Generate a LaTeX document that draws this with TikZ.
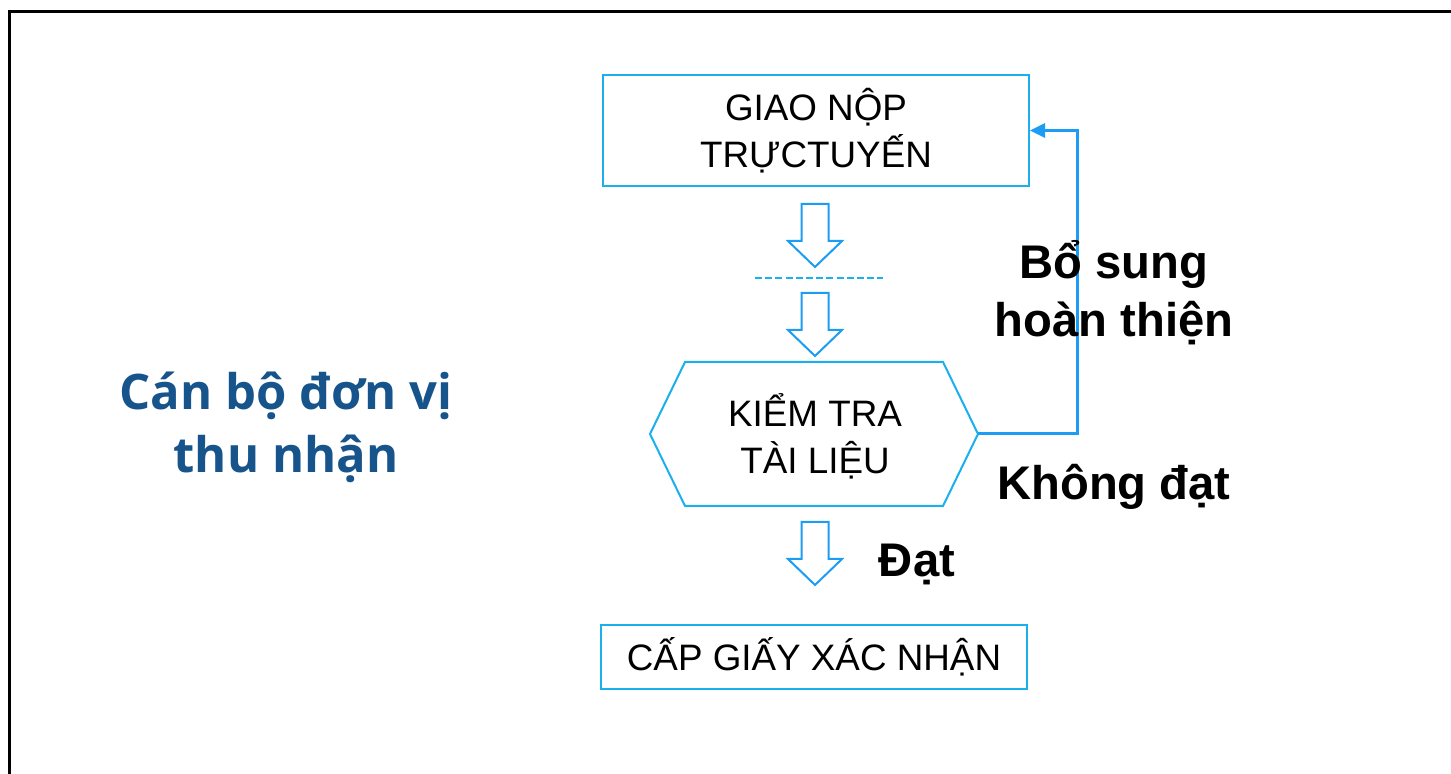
\documentclass[tikz,border=0pt]{standalone}
\usepackage{fontspec}
\setmainfont{Liberation Sans}
\newfontfamily\opensans{Open Sans}
\usetikzlibrary{arrows.meta}
\definecolor{boxblue}{HTML}{1AB0EE}
\definecolor{arrblue}{HTML}{1C9CF2}
\definecolor{titleblue}{HTML}{17548B}
\tikzset{
  boxstyle/.style={draw=boxblue, line width=1pt, inner sep=0pt, align=center, font=\fontsize{18.4}{23.5}\selectfont},
  arrowline/.style={draw=arrblue, line width=1pt, line join=miter},
  fbline/.style={draw=arrblue, line width=1.5pt},
  boldlabel/.style={font=\bfseries\fontsize{23.6}{29}\selectfont, align=center},
  blockdown/.pic={\draw[arrowline] (-13.5,0) -- (13.5,0) -- (13.5,37) -- (27,37) -- (0,63) -- (-27,37) -- (-13.5,37) -- cycle;}
}
\begin{document}
\begin{tikzpicture}[x=0.5pt, y=-0.5pt]
\useasboundingbox (0,0) rectangle (1451,774);
% frame
\draw[line width=1.5pt] (9,774) -- (9,12) -- (1451,12);
% title
\node[font=\opensans\bfseries\fontsize{24.5}{31.5}\selectfont, text=titleblue, align=center] (actor) at (286,427) {Cán bộ đơn vị\\thu nhận};
% top box
\node[boxstyle, minimum width=213pt, minimum height=55.5pt] (top) at (816,130.5) {GIAO NỘP\\TRỰCTUYẾN};
% arrows
\pic at (815,204) {blockdown};
\draw[draw=boxblue, line width=1.1pt, dash pattern=on 3.5pt off 1.6pt] (755,278) -- (883,278);
\pic at (815,293) {blockdown};
% hexagon
\draw[draw=boxblue, line width=1pt] (650,434) -- (685,362) -- (943,362) -- (978,434) -- (943,506) -- (685,506) -- cycle;
\coordinate (hexE) at (978,434);
\node[align=center, font=\fontsize{18.4}{23.5}\selectfont] (check) at (815,436) {KIỂM TRA\\TÀI LIỆU};
% feedback
\draw[fbline, -{Triangle[length=7.5pt, width=7pt]}] (hexE) -- ++(99,0) |- (top.east);
\node[boldlabel] (fix) at (1114,293) {Bổ sung\\hoàn thiện};
\node[boldlabel] (fail) at (1114,487) {Không đạt};
% pass
\pic at (815,522) {blockdown};
\node[boldlabel] (pass) at (917,564) {Đạt};
% bottom box
\node[boxstyle, minimum width=213pt, minimum height=32pt] (bottom) at (814,657) {CẤP GIẤY XÁC NHẬN};
\end{tikzpicture}
\end{document}
